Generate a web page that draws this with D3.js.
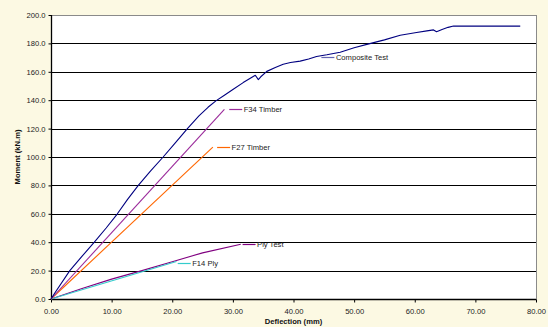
<!DOCTYPE html>
<html><head><meta charset="utf-8">
<script src="https://cdn.jsdelivr.net/npm/d3@7"></script>
<style>html,body{margin:0;padding:0;background:#FCF9E3;}svg{display:block;}</style>
</head><body>
<script>
// Data (deflection mm, moment kN.m)
const compositeX = [0,0.6,3.1,5.1,7.15,9.1,10.95,12.6,14.4,16.4,18.5,20.5,22.5,24.4,25.9,27.2,28.6,30,31.7,33.7,34.2,34.6,35.6,37,38.3,39.5,41.1,42.5,43.8,45.5,47.7,50,52.1,55,57.6,60.3,62,63.1,63.6,64.5,65.5,66.4,77.4];
const compositeY = [0,4,20,30,40,50,60,70,80,90,100,110,120,129,135,139.5,143.5,147.5,152.4,157.6,154.5,156.5,160.3,163,165.3,166.5,167.5,169,170.8,172,173.8,177,179.3,182.5,185.7,187.7,188.8,189.5,188.2,189.8,191.3,192.2,192.2];
const f34X = [0,28.6];
const f34Y = [0,133.5];
const f27X = [0,26.7];
const f27Y = [0,107];
const plyX = [0,5,10,15,20,25,31.3];
const plyY = [0,7.2,14,20,26.3,32.5,38.6];
const f14X = [0,20.7];
const f14Y = [0,26.4];
const seriesNames = ["Composite Test","F34 Timber","F27 Timber","Ply Test","F14 Ply"];
// label anchors (data units)
const labelX = [44.6,29.4,27.4,31.6,20.9];
const labelY = [170.5,133.5,107,38.6,25.4];
const xTicks = [0,10,20,30,40,50,60,70,80];
const yTicks = [0,20,40,60,80,100,120,140,160,180,200];

const W=548,H=327;
const m={l:51,r:W-536,t:15,b:H-299};
const svg=d3.select("body").append("svg").attr("width",W).attr("height",H);
svg.append("rect").attr("width",W).attr("height",H).attr("fill","#FCF9E3");
const x=d3.scaleLinear().domain([0,80]).range([m.l,W-m.r]);
const y=d3.scaleLinear().domain([0,200]).range([H-m.b,m.t]);
const font="Arial, 'Liberation Sans', sans-serif";

svg.append("rect").attr("x",x(0)).attr("y",y(200)).attr("width",x(80)-x(0)).attr("height",y(0)-y(200))
  .attr("fill","#fff").attr("stroke","#8a8a8a").attr("stroke-width",1).attr("shape-rendering","crispEdges");

// gridlines
svg.append("g").selectAll("line").data(yTicks.filter(d=>d>0&&d<200)).join("line")
  .attr("x1",x(0)).attr("x2",x(80)).attr("y1",d=>Math.round(y(d))+0.5).attr("y2",d=>Math.round(y(d))+0.5)
  .attr("stroke","#000").attr("stroke-width",1);

// axes
const yAxis=svg.append("g").attr("transform",`translate(${Math.round(x(0))+0.5},0)`)
  .call(d3.axisLeft(y).tickValues(yTicks).tickFormat(d3.format(".1f")).tickSize(3).tickPadding(3));
const xAxis=svg.append("g").attr("transform",`translate(0,${Math.round(y(0))+0.5})`)
  .call(d3.axisBottom(x).tickValues(xTicks).tickFormat(d3.format(".2f")).tickSize(3).tickPadding(6));
[yAxis,xAxis].forEach(a=>{
  a.selectAll("path").attr("stroke","#000").attr("stroke-width",1.3);
  a.selectAll("line").attr("stroke","#000");
  a.selectAll("text").attr("font-family",font).attr("font-size",7.6).attr("fill","#222");
});
yAxis.select(".domain").attr("d",`M0,${y(200)}V${y(0)}`);
xAxis.select(".domain").attr("d",`M${x(0)},0H${x(80)}`);

const line=d3.line().x(d=>x(d[0])).y(d=>y(d[1]));
const series=[
  {xs:plyX,ys:plyY,c:"#800080",w:1.1},
  {xs:f14X,ys:f14Y,c:"#33CCCC",w:1.1},
  {xs:f27X,ys:f27Y,c:"#FF6600",w:1.1},
  {xs:f34X,ys:f34Y,c:"#9B2B9B",w:1.1},
  {xs:compositeX,ys:compositeY,c:"#000080",w:1.1},
];
const g=svg.append("g");
series.forEach(s=>{
  g.append("path").datum(s.xs.map((v,i)=>[v,s.ys[i]])).attr("d",line)
   .attr("fill","none").attr("stroke",s.c).attr("stroke-width",s.w).attr("stroke-linejoin","round");
});

// labels
const labelColors=["#000080","#9B2B9B","#FF6600","#800080","#33CCCC"];
seriesNames.forEach((n,i)=>{
  const lx=x(labelX[i]), ly=Math.round(y(labelY[i]))+0.5;
  svg.append("line").attr("x1",lx).attr("x2",lx+13).attr("y1",ly).attr("y2",ly)
    .attr("stroke",labelColors[i]).attr("stroke-width",1.2).attr("opacity",i===0?0.6:1);
  svg.append("text").attr("x",lx+14.5).attr("y",ly+2.7).text(n)
    .attr("font-family",font).attr("font-size",7.6).attr("fill","#222");
});

svg.append("text").attr("x",(x(0)+x(80))/2).attr("y",324).attr("text-anchor","middle")
  .attr("font-family",font).attr("font-size",7.6).attr("font-weight","bold").attr("fill","#111").text("Deflection (mm)");
svg.append("text").attr("transform",`translate(20,${157}) rotate(-90)`).attr("text-anchor","middle")
  .attr("font-family",font).attr("font-size",7.6).attr("font-weight","bold").attr("fill","#111").text("Moment (kN.m)");
</script>
</body></html>
